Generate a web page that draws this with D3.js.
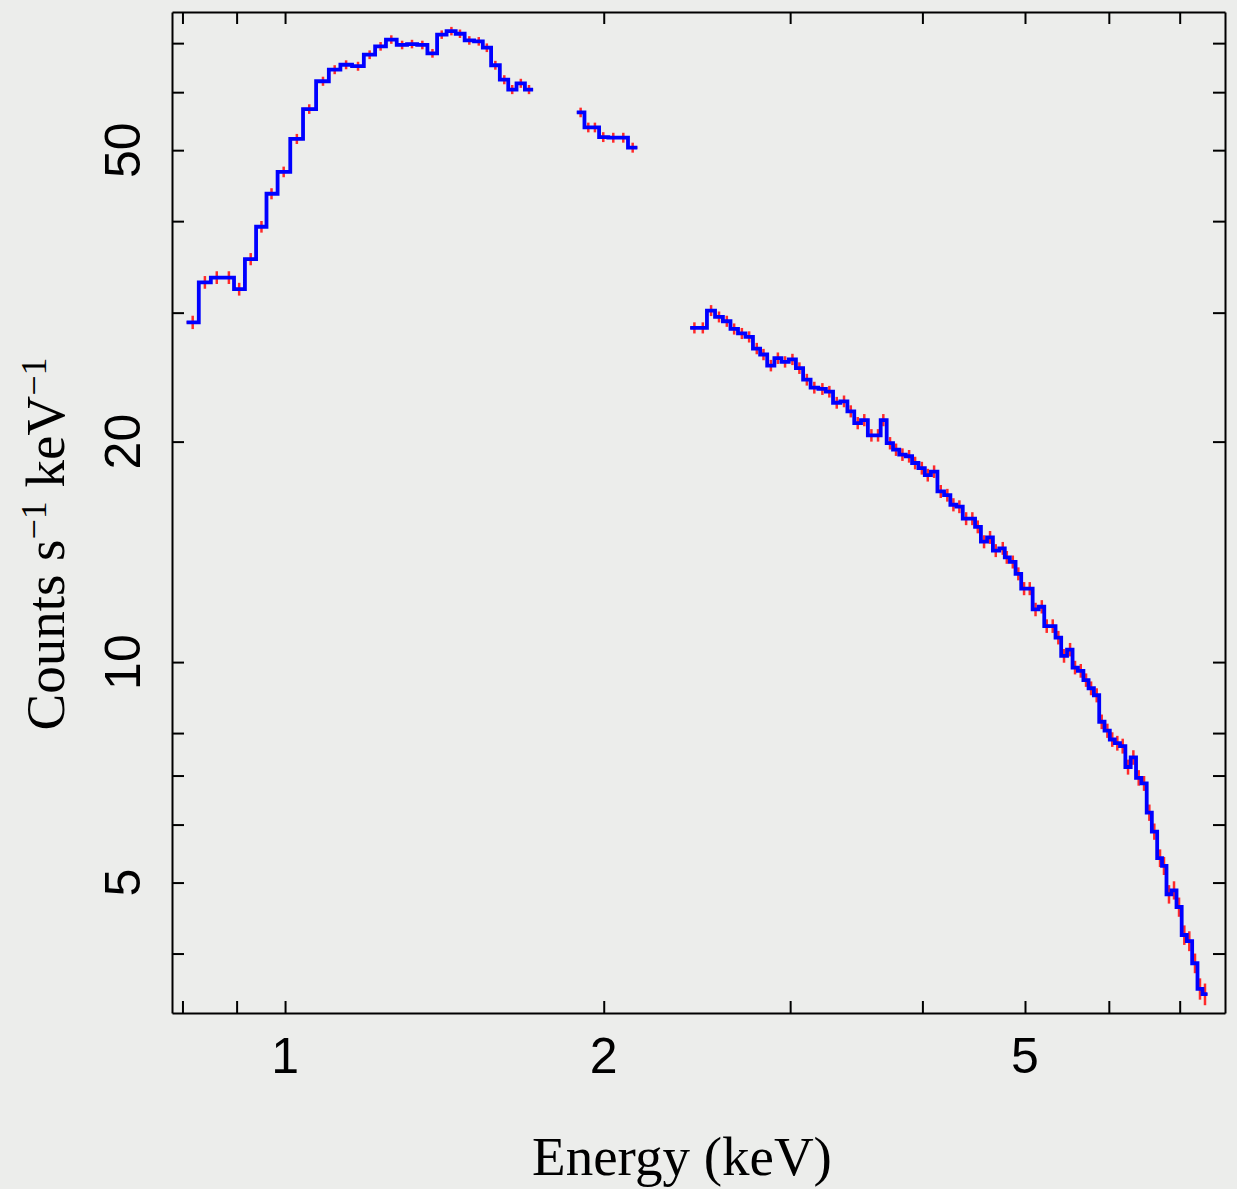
<!DOCTYPE html>
<html lang="en">

<head>
  <meta charset="UTF-8" />
  <title>X-ray spectrum</title>
  <script src="https://d3js.org/d3.v7.min.js"></script>
  <style>
    body {
      margin: 0;
      background: #ecedeb;
    }

    .axis path,
    .axis line {
      stroke: #000;
      stroke-width: 2px;
    }

    .ticklabel {
      font-family: "Liberation Sans", Arial, sans-serif;
      font-size: 50px;
      fill: #000;
    }

    .title {
      font-family: "Liberation Serif", "Times New Roman", serif;
      font-size: 55px;
      fill: #000;
    }
  </style>
</head>

<body>
  <svg width="1237" height="1189"></svg>

  <script>
    // spectrum, three pieces (bin centre energy in keV, counts/s/keV, 1-sigma error)
    const seg1Energy = [0.818, 0.840, 0.862, 0.885, 0.905, 0.928, 0.950, 0.971, 0.997, 1.026, 1.054, 1.086, 1.114, 1.142, 1.172, 1.202, 1.231, 1.260, 1.290, 1.318, 1.348, 1.378, 1.406, 1.436, 1.463, 1.493, 1.524, 1.551, 1.580, 1.611, 1.639, 1.670, 1.700];
    const seg1Counts = [29.1, 33.0, 33.5, 33.5, 32.3, 35.5, 39.3, 43.6, 46.7, 51.8, 56.9, 62.1, 64.4, 65.4, 65.1, 67.5, 69.3, 70.8, 69.6, 69.8, 69.6, 67.8, 71.9, 72.7, 72.1, 70.6, 70.4, 69.0, 65.3, 62.4, 60.5, 61.7, 60.5];
    const seg1Err = [0.61, 0.66, 0.67, 0.67, 0.65, 0.68, 0.72, 0.76, 0.78, 0.82, 0.86, 0.89, 0.91, 0.92, 0.92, 0.93, 0.94, 0.95, 0.94, 0.94, 0.94, 0.93, 0.96, 0.97, 0.96, 0.95, 0.95, 0.94, 0.91, 0.89, 0.87, 0.88, 0.87];

    const seg2Energy = [1.902, 1.934, 1.962, 1.998, 2.042, 2.087, 2.130];
    const seg2Counts = [56.3, 53.7, 53.7, 52.1, 52.0, 52.0, 50.4];
    const seg2Err = [0.85, 0.82, 0.82, 0.81, 0.81, 0.81, 0.79];

    const seg3Energy = [2.436, 2.481, 2.526, 2.570, 2.614, 2.656, 2.701, 2.744, 2.790, 2.831,
      2.877, 2.921, 2.967, 3.015, 3.061, 3.111, 3.162, 3.218, 3.267, 3.320,
      3.373, 3.423, 3.475, 3.525, 3.580, 3.632, 3.674, 3.728, 3.777, 3.830,
      3.886, 3.937, 3.995, 4.047, 4.103, 4.163, 4.223, 4.279, 4.335, 4.399,
      4.459, 4.512, 4.574, 4.634, 4.692, 4.764, 4.806, 4.869, 4.928, 4.990,
      5.052, 5.116, 5.186, 5.242, 5.311, 5.376, 5.443, 5.515, 5.575, 5.645,
      5.710, 5.773, 5.844, 5.908, 5.981, 6.045, 6.112, 6.184, 6.256, 6.329,
      6.403, 6.478, 6.553, 6.624, 6.707, 6.765, 6.839, 6.914, 6.990, 7.071,
      7.148, 7.237, 7.316, 7.396];
    const seg3Counts = [28.6, 28.6, 30.2, 29.6, 29.2, 28.5, 28.1, 27.8, 26.8, 26.3,
      25.4, 26.0, 25.7, 25.9, 25.2, 24.3, 23.7, 23.6, 23.4, 22.6,
      22.7, 22.0, 21.2, 21.4, 20.4, 20.4, 21.4, 19.9, 19.5, 19.2,
      19.1, 18.7, 18.4, 18.0, 18.2, 17.1, 16.9, 16.4, 16.3, 15.7,
      15.7, 15.3, 14.6, 14.8, 14.2, 14.3, 13.9, 13.7, 13.2, 12.6,
      12.6, 11.8, 11.9, 11.2, 11.2, 10.8, 10.2, 10.4, 9.83, 9.73,
      9.45, 9.21, 9.01, 8.29, 8.06, 7.84, 7.75, 7.68, 7.19, 7.41,
      6.95, 6.83, 6.23, 5.87, 5.40, 5.27, 4.82, 4.88, 4.63, 4.24,
      4.16, 3.88, 3.58, 3.52];
    const seg3Err = [0.50, 0.50, 0.52, 0.51, 0.51, 0.50, 0.49, 0.49, 0.48, 0.47,
      0.46, 0.47, 0.46, 0.46, 0.46, 0.45, 0.44, 0.44, 0.43, 0.42,
      0.42, 0.42, 0.41, 0.41, 0.40, 0.40, 0.41, 0.39, 0.38, 0.38,
      0.38, 0.37, 0.37, 0.36, 0.36, 0.35, 0.34, 0.34, 0.33, 0.32,
      0.32, 0.31, 0.30, 0.30, 0.29, 0.29, 0.28, 0.28, 0.27, 0.26,
      0.26, 0.25, 0.25, 0.24, 0.24, 0.23, 0.22, 0.22, 0.21, 0.21,
      0.20, 0.20, 0.20, 0.19, 0.18, 0.18, 0.18, 0.18, 0.17, 0.17,
      0.17, 0.16, 0.16, 0.15, 0.15, 0.15, 0.14, 0.14, 0.14, 0.13,
      0.13, 0.12, 0.12, 0.12];

    const xTicks = [0.8, 0.9, 1, 2, 3, 4, 5, 6, 7];
    const xLabels = [1, 2, 5];
    const yTicks = [4, 5, 6, 7, 8, 10, 20, 30, 40, 50, 60, 70];
    const yLabels = [5, 10, 20, 50];

    const svg = d3.select("svg");

    svg.append("rect")
      .attr("width", 1237).attr("height", 1189)
      .attr("fill", "#ecedeb");

    const x = d3.scaleLog().domain([0.782, 7.725]).range([172, 1225]);
    const y = d3.scaleLog().domain([3.318, 77.2]).range([1013, 12]);

    // build bins with edges half way (in log) between neighbouring centres
    function makeBins(energy, counts, err) {
      const lg = energy.map(Math.log10);
      return energy.map((e, i) => {
        const lo = i > 0 ? (lg[i - 1] + lg[i]) / 2 : lg[0] - (lg[1] - lg[0]) / 2;
        const hi = i < lg.length - 1 ? (lg[i] + lg[i + 1]) / 2 : lg[i] + (lg[i] - lg[i - 1]) / 2;
        return { e: e, lo: Math.pow(10, lo), hi: Math.pow(10, hi), v: counts[i], err: err[i] };
      });
    }

    const segments = [
      makeBins(seg1Energy, seg1Counts, seg1Err),
      makeBins(seg2Energy, seg2Counts, seg2Err),
      makeBins(seg3Energy, seg3Counts, seg3Err)
    ];

    const plot = svg.append("g");

    // red error crosses (data)
    segments.forEach(bins => {
      plot.append("g").selectAll("line.xe")
        .data(bins)
        .join("line")
        .attr("x1", d => x(d.lo)).attr("x2", d => x(d.hi))
        .attr("y1", d => y(d.v)).attr("y2", d => y(d.v))
        .attr("stroke", "#ff2a2a").attr("stroke-width", 2.5);
      plot.append("g").selectAll("line.ye")
        .data(bins)
        .join("line")
        .attr("x1", d => x(d.e)).attr("x2", d => x(d.e))
        .attr("y1", d => y(d.v - d.err)).attr("y2", d => y(d.v + d.err))
        .attr("stroke", "#ff2a2a").attr("stroke-width", 2.5);
    });

    // blue step histogram (model)
    const line = d3.line().x(d => x(d[0])).y(d => y(d[1]));
    segments.forEach(bins => {
      const pts = [];
      bins.forEach(b => { pts.push([b.lo, b.v]); pts.push([b.hi, b.v]); });
      plot.append("path")
        .attr("d", line(pts))
        .attr("fill", "none")
        .attr("stroke", "#0000ff")
        .attr("stroke-width", 3.8)
        .attr("stroke-linejoin", "miter");
    });

    // frame and inward ticks on all four sides
    const tick = 12;
    svg.append("g").attr("class", "axis").attr("transform", "translate(0,1013)")
      .call(d3.axisBottom(x).tickValues(xTicks).tickSize(-tick).tickSizeOuter(0).tickFormat(""));
    svg.append("g").attr("class", "axis").attr("transform", "translate(0,12)")
      .call(d3.axisTop(x).tickValues(xTicks).tickSize(-tick).tickSizeOuter(0).tickFormat(""));
    svg.append("g").attr("class", "axis").attr("transform", "translate(172,0)")
      .call(d3.axisLeft(y).tickValues(yTicks).tickSize(-tick).tickSizeOuter(0).tickFormat(""));
    svg.append("g").attr("class", "axis").attr("transform", "translate(1225,0)")
      .call(d3.axisRight(y).tickValues(yTicks).tickSize(-tick).tickSizeOuter(0).tickFormat(""));

    svg.selectAll(".xlab")
      .data(xLabels)
      .join("text")
      .attr("class", "ticklabel")
      .attr("x", d => x(d))
      .attr("y", 1073)
      .attr("text-anchor", "middle")
      .text(d => d);

    svg.selectAll(".ylab")
      .data(yLabels)
      .join("text")
      .attr("class", "ticklabel")
      .attr("transform", d => `translate(140,${y(d)}) rotate(-90)`)
      .attr("text-anchor", "middle")
      .text(d => d);

    // axis titles
    svg.append("text")
      .attr("class", "title")
      .attr("x", 682).attr("y", 1175)
      .attr("text-anchor", "middle")
      .text("Energy (keV)");

    const yt = svg.append("text")
      .attr("class", "title")
      .attr("transform", "translate(64,544) rotate(-90)")
      .attr("text-anchor", "middle");
    yt.append("tspan").text("Counts s");
    yt.append("tspan").attr("dy", -18).attr("font-size", 36).text("\u22121");
    yt.append("tspan").attr("dy", 18).text(" keV");
    yt.append("tspan").attr("dy", -18).attr("font-size", 36).text("\u22121");
  </script>

</body>

</html>
